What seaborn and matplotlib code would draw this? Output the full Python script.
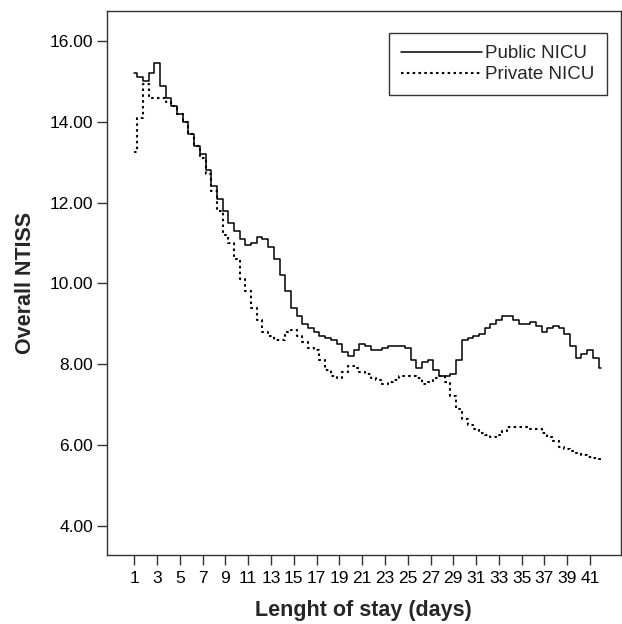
import numpy as np
import pandas as pd
import matplotlib
matplotlib.use("Agg")
import matplotlib.pyplot as plt
import seaborn as sns

# day grid (half-day steps) and the two smoothed NTISS curves
days = [1 + 0.5 * i for i in range(83)]

public_ntiss = [
    15.20, 15.10, 15.00, 15.20, 15.45, 14.90, 14.60, 14.40, 14.20, 14.00,
    13.70, 13.40, 13.20, 12.80, 12.40, 12.10, 11.80, 11.50, 11.30, 11.10,
    10.95, 11.00, 11.15, 11.10, 10.90, 10.60, 10.20, 9.80, 9.40, 9.20,
    9.00, 8.90, 8.80, 8.70, 8.65, 8.60, 8.50, 8.30, 8.20, 8.35,
    8.50, 8.45, 8.35, 8.35, 8.40, 8.45, 8.45, 8.45, 8.40, 8.10,
    7.90, 8.05, 8.10, 7.85, 7.70, 7.70, 7.75, 8.10, 8.60, 8.65,
    8.70, 8.75, 8.90, 9.00, 9.10, 9.20, 9.20, 9.10, 9.00, 9.00,
    9.05, 8.95, 8.80, 8.90, 8.95, 8.90, 8.75, 8.45, 8.15, 8.25,
    8.35, 8.15, 7.90,
]

private_ntiss = [
    13.25, 14.10, 14.95, 14.60, 14.60, 14.60, 14.50, 14.40, 14.20, 14.00,
    13.70, 13.40, 13.10, 12.70, 12.30, 11.80, 11.20, 11.00, 10.60, 10.10,
    9.80, 9.40, 9.10, 8.80, 8.70, 8.60, 8.60, 8.80, 8.85, 8.70,
    8.55, 8.40, 8.35, 8.10, 7.85, 7.70, 7.65, 7.80, 7.95, 7.90,
    7.80, 7.75, 7.65, 7.60, 7.50, 7.55, 7.60, 7.70, 7.70, 7.70,
    7.65, 7.50, 7.55, 7.65, 7.70, 7.55, 7.20, 6.90, 6.65, 6.50,
    6.40, 6.30, 6.25, 6.20, 6.25, 6.35, 6.45, 6.45, 6.45, 6.45,
    6.40, 6.40, 6.30, 6.20, 6.10, 5.95, 5.90, 5.85, 5.80, 5.75,
    5.70, 5.68, 5.65,
]

x_ticks = list(range(1, 42, 2))
y_ticks = [4, 6, 8, 10, 12, 14, 16]

sns.set_style("white")
plt.rcParams['font.family'] = ['Liberation Sans', 'DejaVu Sans']

df = pd.DataFrame({
    'day': days * 2,
    'ntiss': public_ntiss + private_ntiss,
    'group': ['Public NICU'] * len(days) + ['Private NICU'] * len(days),
})

fig = plt.figure(figsize=(6.22, 6.24), dpi=100)
ax = fig.add_axes([0.172, 0.111, 0.826, 0.871])

sns.lineplot(data=df[df['group'] == 'Public NICU'], x='day', y='ntiss',
             color='black', linewidth=1.1, drawstyle='steps-mid',
             label='Public NICU', ax=ax)
sns.lineplot(data=df[df['group'] == 'Private NICU'], x='day', y='ntiss',
             color='black', linewidth=1.5, linestyle=(0, (1.2, 1.6)),
             drawstyle='steps-mid', label='Private NICU', ax=ax)

ax.set_xlim(-1.4, 43.7)
ax.set_ylim(3.28, 16.74)
ax.set_xticks(x_ticks)
ax.set_yticks(y_ticks)
ax.set_yticklabels([f"{v:.2f}" for v in y_ticks])
ax.tick_params(axis='both', direction='out', length=7, width=1, color='#333333',
               labelsize=12.5, labelcolor='black', bottom=True, left=True)
ax.tick_params(axis='x', pad=5)
ax.tick_params(axis='y', pad=3)
for s in ax.spines.values():
    s.set_color('#333333')
    s.set_linewidth(1.0)

ax.set_xlabel('Lenght of stay (days)', fontsize=15.5, fontweight='bold')
ax.set_ylabel('Overall NTISS', fontsize=15.5, fontweight='bold', labelpad=10)
ax.xaxis.set_label_coords(0.5, -0.083)

leg = ax.legend(loc='upper right', bbox_to_anchor=(0.973, 0.96), borderaxespad=0,
                fontsize=13.5, frameon=True, fancybox=False, handlelength=4.3,
                borderpad=0.65, labelspacing=0.2, handletextpad=0.2)
leg.get_frame().set_edgecolor('black')
leg.get_frame().set_linewidth(1.0)

fig.savefig('out.png', dpi=100)
